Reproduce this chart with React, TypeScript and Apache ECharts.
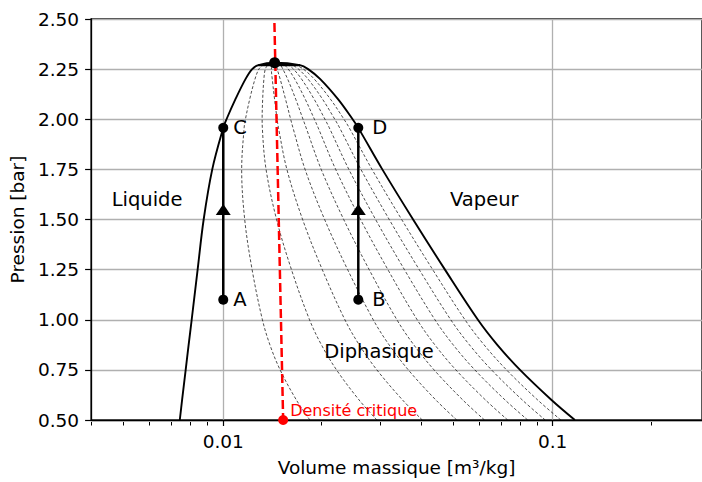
import React, { useEffect, useRef } from "react";
import * as echarts from "echarts";

// Saturation dome, read at shared pressure levels [bar]
const P_LEVELS = [0.5, 0.6, 0.75, 0.875, 1.0, 1.25, 1.5, 1.75, 1.957, 2.0, 2.1, 2.2, 2.25, 2.27];
const V_LIQUID = [0.00738, 0.0075, 0.00769, 0.00785, 0.00802, 0.00836, 0.00872, 0.00926, 0.01, 0.01023, 0.01089, 0.01168, 0.01224, 0.01278];
const V_VAPOR = [0.1168, 0.0992, 0.0796, 0.0679, 0.0593, 0.0471, 0.0377, 0.0304, 0.0257, 0.0247, 0.0223, 0.0197, 0.0181, 0.0171];
// Iso-quality (title) lines drawn between the two branches
const QUALITIES = [0.1, 0.2, 0.3, 0.4, 0.5, 0.6, 0.7, 0.8, 0.9];

const CRIT_POINT = [0.01432, 2.282];
const CRIT_DENSITY_LINE = [
  [0.0143, 2.48],
  [0.0152, 0.5],
];
const CRIT_DENSITY_LABEL = "Densité critique";

const LEFT_POINT_NAMES = ["A", "C"];
const LEFT_POINT_V = [0.01, 0.01];
const LEFT_POINT_P = [1.1, 1.957];
const RIGHT_POINT_NAMES = ["B", "D"];
const RIGHT_POINT_V = [0.0257, 0.0257];
const RIGHT_POINT_P = [1.1, 1.957];
const ARROW_P = 1.55;

const REGION_NAMES = ["Liquide", "Vapeur", "Diphasique"];
const REGION_V = [0.00587, 0.062, 0.0297];
const REGION_P = [1.6, 1.6, 0.84];

const X_MIN = 0.00397;
const X_MAX = 0.284;
const X_MAJOR_TICKS = [0.01, 0.1];
const X_MINOR_TICKS = [0.004, 0.005, 0.006, 0.007, 0.008, 0.009, 0.02, 0.03, 0.04, 0.05, 0.06, 0.07, 0.08, 0.09, 0.2];
const Y_MIN = 0.5;
const Y_MAX = 2.5;
const Y_STEP = 0.25;

const X_TITLE = "Volume massique [m³/kg]";
const Y_TITLE = "Pression [bar]";

const FONT = "DejaVu Sans";

export default function App() {
  const ref = useRef<HTMLDivElement>(null);
  useEffect(() => {
    if (!ref.current) return;
    const chart = echarts.init(ref.current, undefined, { renderer: "svg" });

    const last = P_LEVELS.length - 1;
    const dome: number[][] = [
      ...P_LEVELS.map((p, i) => [V_LIQUID[i], p]),
      CRIT_POINT,
      ...P_LEVELS.map((p, i) => [V_VAPOR[i], p]).reverse(),
    ];
    const topBar: number[][] = [
      [V_LIQUID[last], P_LEVELS[last]],
      [V_VAPOR[last], P_LEVELS[last]],
    ];
    const qualitySeries = QUALITIES.map((q) => ({
      type: "line",
      xAxisIndex: 0,
      yAxisIndex: 0,
      data: P_LEVELS.map((p, i) => [V_LIQUID[i] + q * (V_VAPOR[i] - V_LIQUID[i]), p]),
      smooth: 0.35,
      symbol: "none",
      silent: true,
      z: 2,
      lineStyle: { color: "#000", width: 0.7, type: [3, 2] },
    }));

    const gridBox = { left: 90, top: 19, right: -2, bottom: 60 };
    const pointStyle = { color: "#000", opacity: 1 };

    const option: any = {
      animation: false,
      backgroundColor: "#fff",
      grid: [
        { ...gridBox, show: true, borderColor: "#000", borderWidth: 1.3, backgroundColor: "transparent" },
        { ...gridBox, show: false },
      ],
      xAxis: [
        {
          type: "log",
          gridIndex: 0,
          logBase: 10,
          min: X_MIN,
          max: X_MAX,
          name: X_TITLE,
          nameLocation: "middle",
          nameGap: 38,
          nameTextStyle: { fontFamily: FONT, fontSize: 18.5, color: "#000" },
          axisLine: { show: true, lineStyle: { color: "#000", width: 1.3 } },
          axisTick: { show: true, length: 6, customValues: X_MAJOR_TICKS, lineStyle: { color: "#000", width: 1.2 } },
          axisLabel: {
            show: true,
            customValues: X_MAJOR_TICKS,
            margin: 12,
            fontFamily: FONT,
            fontSize: 18.5,
            color: "#000",
            formatter: (v: number) => String(Math.round(v * 1000) / 1000),
          },
          splitLine: { show: true, lineStyle: { color: "#b0b0b0", width: 1.3 } },
          minorTick: { show: false },
        },
        {
          type: "log",
          gridIndex: 1,
          logBase: 10,
          min: X_MIN,
          max: X_MAX,
          position: "bottom",
          axisLine: { show: false },
          axisTick: { show: true, length: 3.5, customValues: X_MINOR_TICKS, lineStyle: { color: "#000", width: 1 } },
          axisLabel: { show: false },
          splitLine: { show: false },
        },
      ],
      yAxis: [
        {
          type: "value",
          gridIndex: 0,
          min: Y_MIN,
          max: Y_MAX,
          interval: Y_STEP,
          name: Y_TITLE,
          nameLocation: "middle",
          nameGap: 62,
          nameTextStyle: { fontFamily: FONT, fontSize: 18.5, color: "#000" },
          axisLine: { show: true, lineStyle: { color: "#000", width: 1.3 } },
          axisTick: { show: true, length: 6, lineStyle: { color: "#000", width: 1.2 } },
          axisLabel: {
            margin: 12,
            fontFamily: FONT,
            fontSize: 18.5,
            color: "#000",
            formatter: (v: number) => v.toFixed(2),
          },
          splitLine: { show: true, lineStyle: { color: "#b0b0b0", width: 1.3 } },
        },
        { type: "value", gridIndex: 1, min: Y_MIN, max: Y_MAX, show: false },
      ],
      series: [
        ...qualitySeries,
        {
          type: "line",
          data: dome,
          smooth: 0.35,
          symbol: "none",
          z: 3,
          lineStyle: { color: "#000", width: 1.9 },
        },
        {
          type: "line",
          data: topBar,
          symbol: "none",
          z: 3,
          lineStyle: { color: "#000", width: 2.4 },
        },
        {
          type: "line",
          data: CRIT_DENSITY_LINE,
          symbol: "none",
          z: 4,
          lineStyle: { color: "#ff0000", width: 2.5, type: [9, 4] },
        },
        {
          type: "line",
          data: [
            [LEFT_POINT_V[0], LEFT_POINT_P[0]],
            [LEFT_POINT_V[1], LEFT_POINT_P[1]],
          ],
          symbol: "none",
          z: 5,
          lineStyle: { color: "#000", width: 2.5 },
        },
        {
          type: "line",
          data: [
            [RIGHT_POINT_V[0], RIGHT_POINT_P[0]],
            [RIGHT_POINT_V[1], RIGHT_POINT_P[1]],
          ],
          symbol: "none",
          z: 5,
          lineStyle: { color: "#000", width: 2.5 },
        },
        {
          type: "scatter",
          data: [
            [LEFT_POINT_V[0], ARROW_P],
            [RIGHT_POINT_V[0], ARROW_P],
          ],
          symbol: "triangle",
          symbolSize: [15, 11],
          z: 6,
          itemStyle: pointStyle,
        },
        {
          type: "scatter",
          data: LEFT_POINT_NAMES.map((n, i) => ({ name: n, value: [LEFT_POINT_V[i], LEFT_POINT_P[i]] })),
          symbolSize: 10,
          z: 6,
          itemStyle: pointStyle,
          label: {
            show: true,
            position: "right",
            distance: 5,
            formatter: "{b}",
            fontFamily: FONT,
            fontSize: 19.5,
            color: "#000",
          },
        },
        {
          type: "scatter",
          data: RIGHT_POINT_NAMES.map((n, i) => ({ name: n, value: [RIGHT_POINT_V[i], RIGHT_POINT_P[i]] })),
          symbolSize: 10,
          z: 6,
          itemStyle: pointStyle,
          label: {
            show: true,
            position: "right",
            distance: 9,
            formatter: "{b}",
            fontFamily: FONT,
            fontSize: 19.5,
            color: "#000",
          },
        },
        {
          type: "scatter",
          data: [CRIT_POINT],
          symbolSize: 11,
          z: 6,
          itemStyle: pointStyle,
        },
        {
          type: "scatter",
          data: [{ name: CRIT_DENSITY_LABEL, value: CRIT_DENSITY_LINE[1] }],
          symbolSize: 10,
          z: 7,
          itemStyle: { color: "#ff0000", opacity: 1 },
          label: {
            show: true,
            position: "right",
            distance: 2,
            offset: [0, -10],
            formatter: "{b}",
            fontFamily: FONT,
            fontSize: 16,
            color: "#ff0000",
          },
        },
        {
          type: "scatter",
          data: REGION_NAMES.map((n, i) => ({ name: n, value: [REGION_V[i], REGION_P[i]] })),
          symbolSize: 0,
          z: 7,
          silent: true,
          itemStyle: { opacity: 1 },
          label: {
            show: true,
            position: "inside",
            formatter: "{b}",
            fontFamily: FONT,
            fontSize: 19.5,
            color: "#000",
          },
        },
      ],
    };

    chart.setOption(option);
    return () => chart.dispose();
  }, []);

  return (
    <div
      ref={ref}
      style={{ position: "fixed", left: 0, top: 0, width: 702, height: 482, background: "#fff" }}
    />
  );
}
